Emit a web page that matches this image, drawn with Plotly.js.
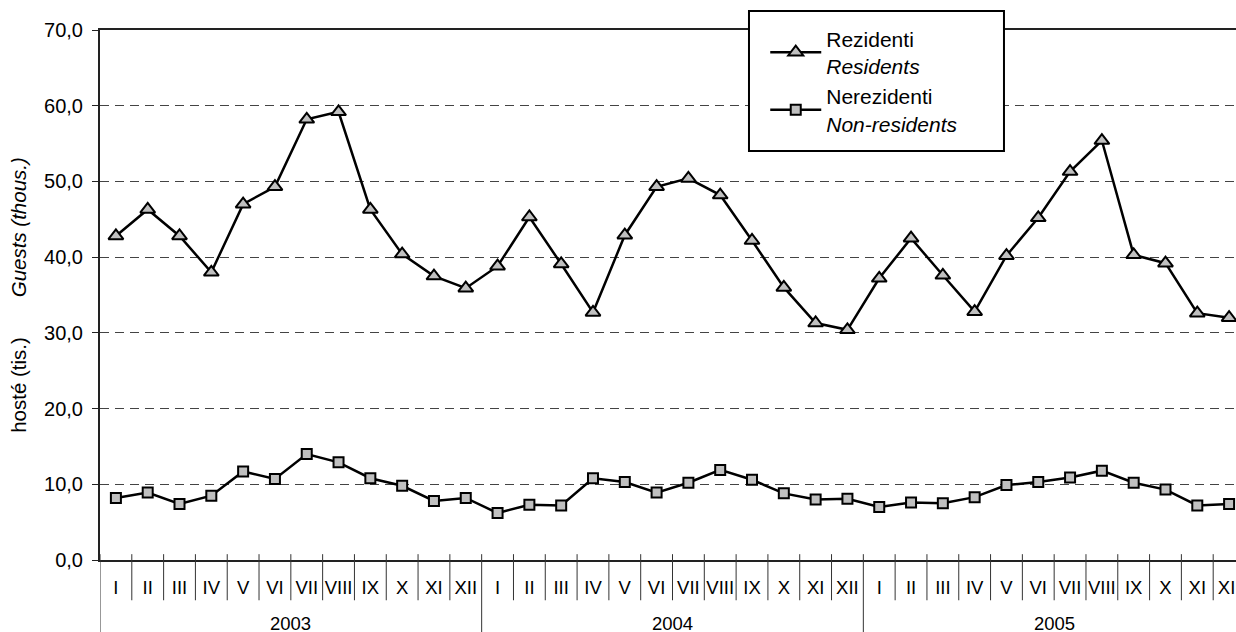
<!DOCTYPE html>
<html><head><meta charset="utf-8">
<script src="https://cdn.plot.ly/plotly-3.0.1.min.js"></script>
<style>html,body{margin:0;padding:0;overflow:hidden;background:#fff}#chart{width:1260px;height:632px}</style>
</head><body><div id="chart"></div>
<script>
const years = ['2003', '2004', '2005'];
const months = ['I','II','III','IV','V','VI','VII','VIII','IX','X','XI','XII'];
const residents2003 = [42.8, 46.3, 42.8, 38.0, 47.0, 49.3, 58.2, 59.2, 46.3, 40.4, 37.5, 35.9];
const residents2004 = [38.8, 45.3, 39.1, 32.7, 42.9, 49.3, 50.4, 48.2, 42.2, 36.0, 31.3, 30.4];
const residents2005 = [37.2, 42.5, 37.6, 32.8, 40.2, 45.2, 51.3, 55.4, 40.3, 39.2, 32.6, 32.0];
const nonResidents2003 = [8.2, 8.9, 7.4, 8.5, 11.7, 10.7, 14.0, 12.9, 10.8, 9.8, 7.8, 8.2];
const nonResidents2004 = [6.2, 7.3, 7.2, 10.8, 10.3, 8.9, 10.2, 11.9, 10.6, 8.8, 8.0, 8.1];
const nonResidents2005 = [7.0, 7.6, 7.5, 8.3, 9.9, 10.3, 10.9, 11.8, 10.2, 9.3, 7.2, 7.4];
const seriesNames = ['Rezidenti<br><i>Residents</i>', 'Nerezidenti<br><i>Non-residents</i>'];
const yTitleCz = 'hosté (tis.)';
const yTitleEn = 'Guests (thous.)';

const FONT = 'Liberation Sans, Arial, sans-serif';
const residents = residents2003.concat(residents2004, residents2005);
const nonResidents = nonResidents2003.concat(nonResidents2004, nonResidents2005);
const n = residents.length;
const xIdx = residents.map((_, i) => i);
const tickText = years.flatMap(() => months);

const traces = [
  {x: xIdx, y: residents, name: seriesNames[0], type: 'scatter', mode: 'lines+markers',
   line: {color: '#000', width: 2.5},
   marker: {symbol: 'triangle-up', size: 13, color: '#c0c0c0', line: {color: '#000', width: 2}},
   cliponaxis: false},
  {x: xIdx, y: nonResidents, name: seriesNames[1], type: 'scatter', mode: 'lines+markers',
   line: {color: '#000', width: 2.5},
   marker: {symbol: 'square', size: 10, color: '#c0c0c0', line: {color: '#000', width: 2}},
   cliponaxis: false}
];

const shapes = [];
// month separators
for (let i = 1; i < n; i++) {
  if (i % 12 === 0) continue;
  shapes.push({type: 'line', xref: 'x', yref: 'paper', x0: i - 0.5, x1: i - 0.5, y0: 0.011, y1: -0.076,
    line: {color: '#333', width: 1}});
}
// year separators
for (let k = 0; k <= years.length; k++) {
  const xv = k * 12 - 0.5;
  shapes.push({type: 'line', xref: 'x', yref: 'paper', x0: xv, x1: xv, y0: 0.011, y1: -0.16,
    line: {color: '#333', width: 1}});
}
// legend box
shapes.push({type: 'rect', xref: 'paper', yref: 'paper', x0: 0.5668, x1: 0.7895, y0: 0.7717, y1: 1.0358,
  fillcolor: '#fff', line: {color: '#000', width: 2}, layer: 'above'});

const annotations = years.map((yr, k) => ({
  text: yr, xref: 'x', yref: 'paper', x: k * 12 + 5.5, y: -0.119, showarrow: false,
  xanchor: 'center', yanchor: 'middle', font: {family: FONT, size: 18.5, color: '#000'}
}));

const nb = '\u00A0';
const layout = {
  width: 1260, height: 632,
  margin: {l: 100, r: 15, t: 30, b: 72},
  paper_bgcolor: '#fff', plot_bgcolor: '#fff',
  font: {family: FONT, color: '#000'},
  showlegend: true,
  legend: {x: 0.581, y: 1.022, xanchor: 'left', yanchor: 'top', bgcolor: 'rgba(0,0,0,0)',
    borderwidth: 0, font: {family: FONT, size: 21, color: '#000'}, itemwidth: 51, tracegroupgap: 0},
  xaxis: {range: [-0.5, n - 0.5], tickvals: xIdx, ticktext: tickText, ticks: '', showgrid: false,
    zeroline: false, showline: true, mirror: true, linecolor: '#222', linewidth: 2,
    tickfont: {family: FONT, size: 18.5, color: '#000'}, ticklabelstandoff: 10, fixedrange: true},
  yaxis: {range: [0, 70], dtick: 10, tickformat: '.1f', ticks: 'outside', ticklen: 6, tickwidth: 1,
    tickcolor: '#222', showline: true, linecolor: '#222', linewidth: 2, zeroline: false,
    showgrid: true, gridcolor: '#444', gridwidth: 1, griddash: '9px,6px',
    tickfont: {family: FONT, size: 20, color: '#000'}, ticklabelstandoff: 5,
    title: {text: yTitleCz + nb.repeat(7) + '<i>' + yTitleEn + '</i>', font: {family: FONT, size: 20.5, color: '#000'}, standoff: 12},
    fixedrange: true},
  separators: ', ',
  shapes: shapes,
  annotations: annotations,
  hovermode: false
};

Plotly.newPlot('chart', traces, layout, {displayModeBar: false, staticPlot: true});
</script>
</body></html>
